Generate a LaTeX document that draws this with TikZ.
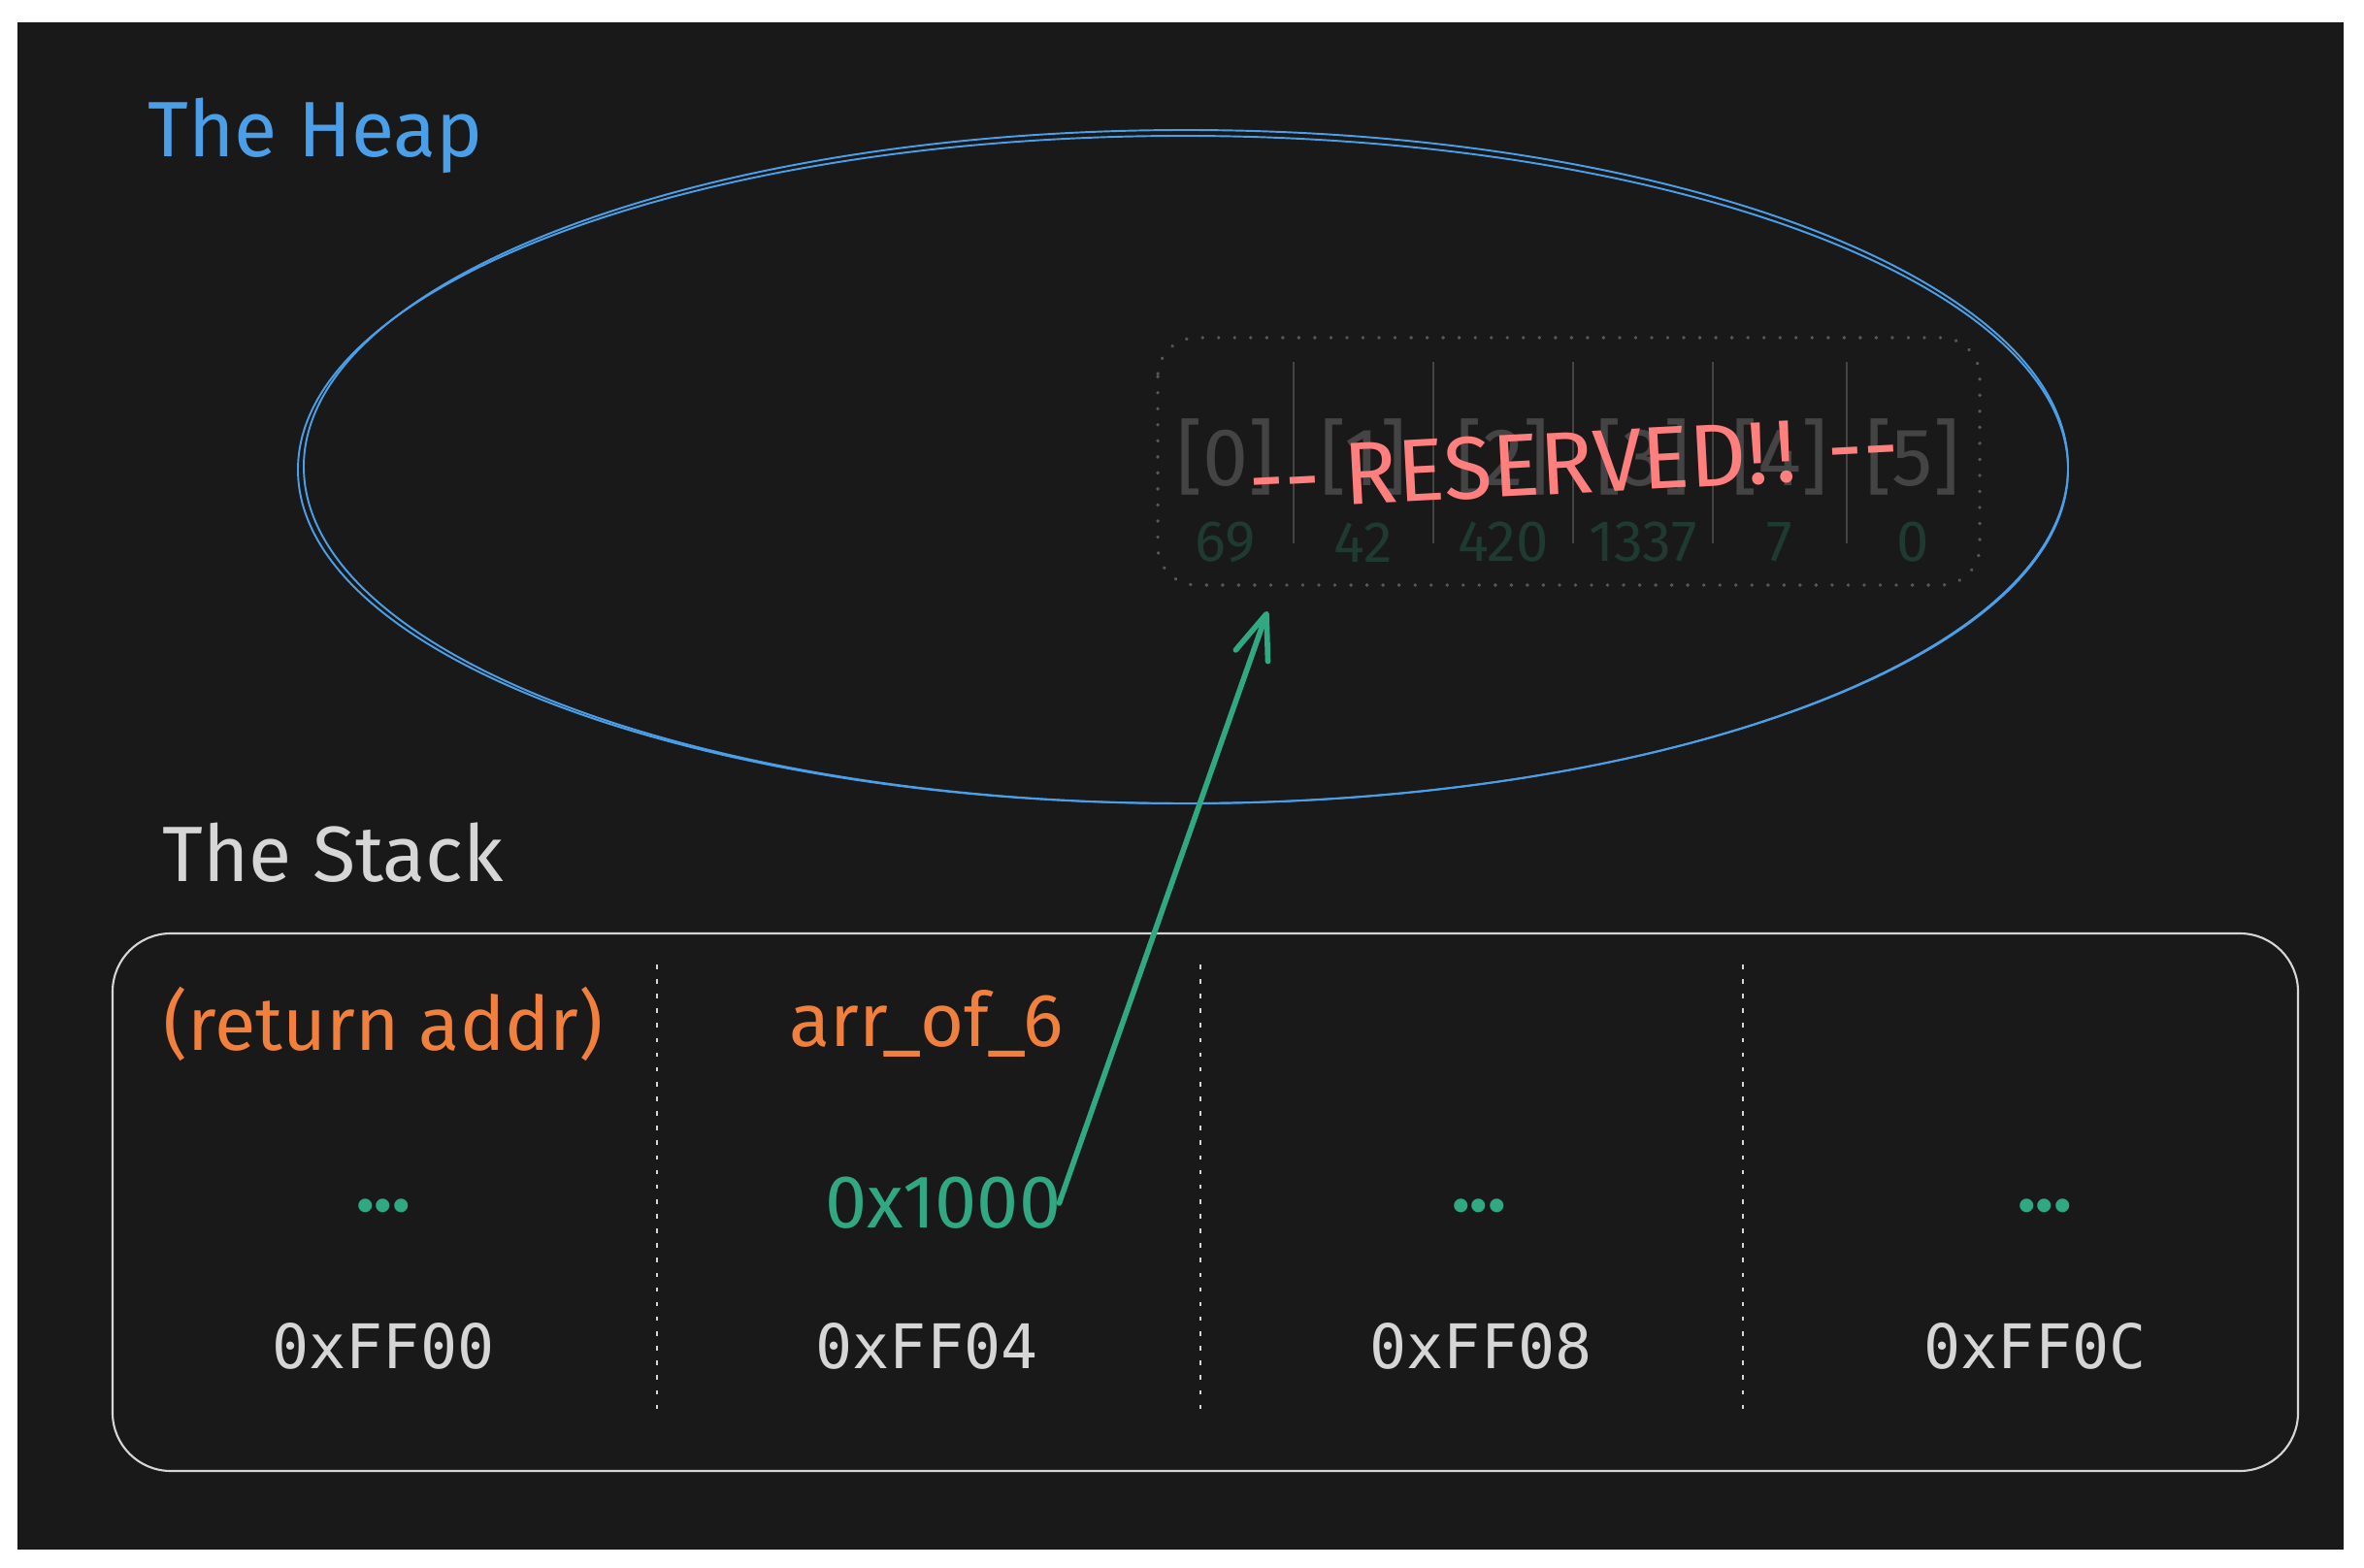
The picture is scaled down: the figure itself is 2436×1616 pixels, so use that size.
\documentclass[tikz,border=0pt]{standalone}
\usepackage{fontspec}
\setmainfont{Fira Sans}
\setmonofont{DejaVu Sans Mono}
\usetikzlibrary{arrows.meta}
\definecolor{bgdark}{HTML}{191919}
\definecolor{heapblue}{HTML}{4A9FE8}
\definecolor{slotorange}{HTML}{F0803C}
\definecolor{ptrgreen}{HTML}{30A882}
\definecolor{addrgray}{HTML}{D6D6D6}
\definecolor{resvred}{HTML}{FF7F7F}
\definecolor{idxgray}{HTML}{444444}
\definecolor{valgreen}{HTML}{1F3A30}
\begin{document}
\begin{tikzpicture}[x=0.01cm,y=-0.01cm,
	title/.style={anchor=base west,font=\fontsize{23}{27}\selectfont},
	slotname/.style={text=slotorange,font=\fontsize{22}{26}\selectfont},
	dots/.style={text=ptrgreen,font=\fontsize{22}{26}\selectfont\bfseries},
	addr/.style={text=addrgray,font=\fontsize{18}{22}\ttfamily},
	idxlbl/.style={text=idxgray,font=\fontsize{24}{28}\selectfont},
	vallbl/.style={text=valgreen,font=\fontsize{17}{20}\selectfont},
	heapline/.style={draw=heapblue,line width=.55pt},
	slotsep/.style={draw=addrgray,line width=.7pt,dash pattern=on 1.3pt off 3pt},
	cellsep/.style={draw=idxgray,line width=.5pt},
	ptr/.style={draw=ptrgreen,line width=1.6pt,line cap=round,line join=round,
		-{Straight Barb[length=13pt,width=10pt,round]}}]
\useasboundingbox (0,0) rectangle (2436,1616);
\fill[white] (0,0) rectangle (2436,1616);
\fill[bgdark] (18,23) rectangle (2415,1597);

% heap
\node[title,text=heapblue] (heaplbl) at (140,162) {The Heap};
\foreach \d in {0,3}
{
	\draw[heapline] ({1219+\d},{484-\d}) ellipse [x radius={912-\d}, y radius={344+\d}];
}
\draw[draw=idxgray!90!white,line width=1pt,line cap=round,dash pattern=on .1pt off 4.6pt,
	rounded corners=0.4cm] (1193,348) rectangle (2040,603);
\foreach \x in {1333,1477,1621,1765,1903}
{
	\draw[cellsep] (\x,373) -- (\x,560);
}
\foreach \x/\v [count=\i from 0] in {1263/69,1405/42,1549/420,1693/1337,1834/7,1971/0}
{
	\node[idxlbl] (idx\i) at (\x,471) {[\i]};
	\node[vallbl] (val\i) at (\x,559) {\v};
}
\node[text=resvred,font=\fontsize{26}{30}\selectfont,rotate=3] (resv) at (1622,477)
	{-{}- RESERVED!\kern2pt! -{}-};
\coordinate (tip) at (1306,630);

% stack
\node[title,text=addrgray] (stacklbl) at (155,909) {The Stack};
\draw[addrgray,line width=.6pt,rounded corners=0.6cm] (116,962) rectangle (2368,1516);
\foreach \x in {677,1237,1796}
{
	\draw[slotsep] (\x,994) -- (\x,1460);
}
\node[slotname] (ret) at (395,1055) {(return addr)};
\node[slotname] (arr) at (955,1055) {arr\_of\_6};
\node[dots] (dots0) at (395,1243) {...};
\node[text=ptrgreen,font=\fontsize{22}{26}\selectfont] (ptrval) at (972,1240) {0x1000};
\node[dots] (dots2) at (1524,1243) {...};
\node[dots] (dots3) at (2107,1243) {...};
\foreach \x/\a in {395/00,955/04,1526/08,2097/0C}
{
	\node[addr] (addr\a) at (\x,1387) {0xFF\a};
}

\draw[ptr] ([xshift=-4pt]ptrval.east) -- (tip);
\end{tikzpicture}
\end{document}
